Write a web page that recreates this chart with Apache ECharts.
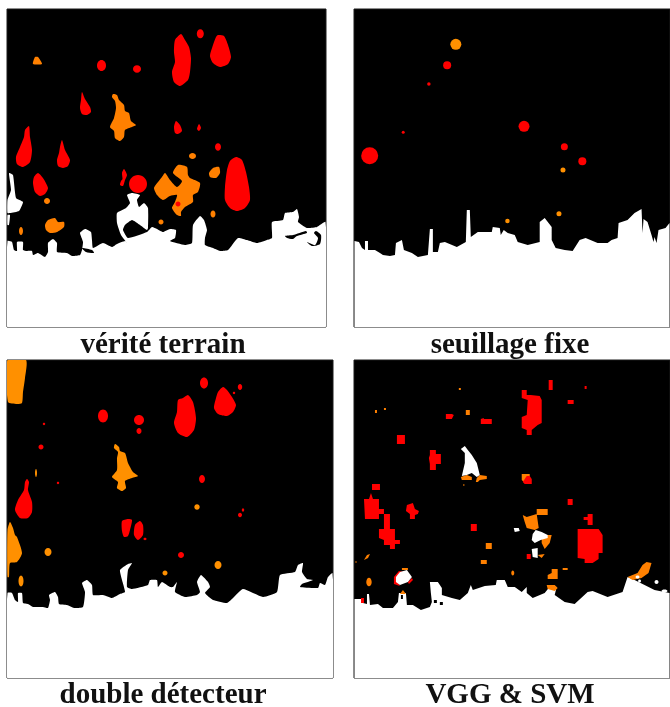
<!DOCTYPE html>
<html><head><meta charset="utf-8">
<style>html,body{margin:0;padding:0;background:#fff}#c{width:670px;height:707px}</style>
<script src="https://cdn.jsdelivr.net/npm/echarts@6/dist/echarts.min.js"></script>
</head><body><div id="c"></div>
<script>
const captions = ['vérité terrain','seuillage fixe','double détecteur','VGG & SVM'];

/* Panel 1 : vérité terrain */
const truthGround = [[[7.5,241],[12,242],[14,250],[17,251],[17,242],[23,242],[23,250],[27,251],[32,251],[33,255],[38,253],[45,257],[48,252],[48,243],[53,239],[57,243],[57,252],[67,253],[72,256],[80,255],[82,250],[83,242],[80,233],[85,229],[91,232],[92,240],[93,248],[103,243],[112,247],[117,244],[125,241],[127,243],[121,235],[117,223],[117,213],[126,208],[130,203],[127,195],[132,193],[140,195],[137,200],[139,207],[144,203],[148,208],[148,228],[147,230],[140,225],[132,220],[125,225],[123,230],[128,238],[147,232],[152,227],[157,229],[163,232],[170,229],[176,230],[175,238],[170,241],[185,245],[192,243],[193,225],[200,216],[204,220],[207,230],[205,238],[205,245],[213,248],[220,251],[228,250],[238,238],[247,240],[257,243],[267,240],[272,238],[272,222],[283,220],[285,213],[293,212],[297,209],[299,217],[298,222],[307,228],[317,227],[325.5,222],[325.5,327],[7.5,327]],
 [[9,173],[13,175],[16,198],[23,202],[19,211],[10,213],[7.5,213],[7.5,200],[11,190]],
 [[7.5,215],[10,215],[9,225],[7.5,225]]];
const truthHoles = [[[285,236],[293,235],[306,231],[307,233],[297,236],[293,239],[287,238]],[[307,242],[315,245],[318,238],[314,233],[316,231],[321,235],[320,244],[312,246]],[[82,248],[92,250],[94,253],[86,252]]];
const truthRed = [[[181,34],[185,40],[189,47],[191,58],[190,72],[188,80],[180,86],[174,82],[172,72],[175,62],[174,52],[175,40]],
 [[218,35],[224,36],[228,45],[231,57],[228,64],[220,67],[213,63],[210,56],[213,45],[216,37]],
 [[82,92],[85,99],[90,107],[91,112],[87,115],[82,114],[80,108],[81,100]],
 [[176,121],[180,125],[182,131],[178,134],[175,133],[174,127]],
 [[199,124],[201,128],[199,131],[197,129]],
 [[29,126],[30,137],[32,150],[30,162],[23,167],[17,164],[16,157],[20,147],[24,137],[25,130]],
 [[62,140],[65,150],[70,160],[68,166],[63,168],[58,166],[57,160],[59,153],[60,147]],
 [[236,157],[242,160],[246,172],[249,187],[250,200],[245,208],[237,211],[230,208],[225,200],[225,187],[227,170],[230,161]],
 [[38,173],[43,178],[48,188],[45,194],[40,196],[35,192],[33,183],[34,177]],
 [[124,169],[127,175],[125,180],[123,186],[120,185],[121,181],[122.5,179],[122,173]]];
const truthRedRound = [[200.3,33.7,3.5,4.5],[101.5,65.5,4.5,5.5],[137,69,4,3.7],[218,147,3,3.7],[138,184,9,9],[178,204,2.5,2.5]];
const truthOrange = [[[35,57],[38,57],[42,64],[33,64]],
 [[113,94],[117,95],[119,100],[124,105],[125,111],[129,113],[131,121],[136,125],[132,127],[125,130],[124,137],[120,141],[115,138],[114,131],[110,127],[114,118],[116,108],[115,101],[112,97]],
 [[213,168],[219,167],[220,173],[216,178],[210,177],[209,173]],
 [[165,173],[170,180],[177,187],[182,181],[173,173],[178,165],[187,167],[188,175],[190,178],[200,183],[198,192],[193,195],[193,202],[185,207],[181,212],[181,216],[177,215],[172,208],[175,202],[177,195],[170,196],[163,200],[157,195],[154,188],[158,182],[162,177]],
 [[45,225],[48,220],[55,218],[58,222],[64,222],[64,227],[57,232],[50,233],[46,230]]];
const truthOrangeRound = [[192.5,156,3.5,3],[47,201,3,3],[21,231,2,4],[161,222,2.5,2.5],[213,214,2.5,3.5]];

/* Panel 2 : seuillage fixe */
const fixedGround = [[[354.5,241],[359,242],[362,248],[365,250],[365,241],[368,241],[368,250],[375,250],[380,253],[383,255],[390,256],[395,255],[396,243],[400,241],[402,240],[404,250],[412,253],[418,257],[428,255],[430,229],[433,229],[433,252],[438,252],[440,243],[445,242],[457,247],[466,242],[467,210],[470,210],[471,237],[478,232],[492,232],[493,227],[500,228],[501,235],[504,230],[508,233],[515,235],[518,242],[528,245],[540,242],[540,222],[545,218],[552,227],[552,240],[556,248],[565,250],[573,251],[580,240],[586,238],[598,243],[608,243],[612,240],[618,238],[619,223],[628,220],[635,213],[642,209],[643,233],[644,219],[648,222],[652,235],[654,242],[655,237],[657,243],[659,230],[666,228],[670,223],[670,327],[354.5,327]]];
const fixedRedDots = [[447.3,65.3,8],[429,84,3.5],[403.3,132.3,3],[524.3,126.3,11],[369.7,155.7,17],[564.7,146.7,7],[582.7,161.3,8]];
const fixedOrangeDots = [[456,44.3,11],[563.3,170,5],[559.3,213.7,5],[507.7,221,4.5]];

/* Panel 3 : double détecteur */
const doubleGround = [[[7.5,593],[12,593],[15,600],[18,602],[18,593],[22,593],[23,603],[28,604],[33,607],[43,607],[48,608],[50,600],[49,595],[55,592],[58,597],[59,604],[67,605],[74,608],[83,607],[85,592],[82,583],[87,580],[92,585],[93,595],[103,595],[112,598],[120,594],[125,592],[122,580],[120,570],[128,564],[132,563],[128,570],[127,587],[132,589],[148,585],[150,580],[157,580],[158,587],[162,582],[170,587],[173,587],[177,582],[175,592],[185,597],[197,595],[200,592],[197,582],[201,575],[208,582],[210,587],[205,593],[213,600],[227,603],[233,598],[243,589],[263,597],[277,592],[280,575],[295,572],[298,565],[303,563],[302,572],[307,579],[313,580],[302,584],[300,587],[318,588],[320,583],[325,585],[328,577],[332.5,573],[332.5,678],[7.5,678]]];
const doubleRed = [[[223,387],[227,390],[232,397],[236,405],[233,412],[227,416],[218,414],[214,408],[216,398],[218,392]],
 [[188,395],[193,402],[196,418],[194,430],[187,437],[178,433],[174,423],[177,412],[178,400],[183,398]],
 [[27,479],[29,482],[28,490],[32,502],[32,512],[28,518],[20,518],[15,510],[18,500],[24,490],[25,482]],
 [[122,521],[128,519],[132,520],[130,530],[128,536],[124,537],[122,531]],
 [[135,525],[140,521],[143,525],[143,535],[138,540],[134,535]]];
const doubleRedRound = [[204,383,4,5.5],[240,387,2.2,3],[234,393,1.2,1.2],[103,416,5,6.5],[139,420,5,5],[139,431,2.5,3],[44,424,1.2,1.2],[41,447,2.5,2.5],[58,483,1.2,1.2],[202,479,3,4],[240,515,2,2.2],[243,510,1.2,1.7],[145,539,1.5,1.2],[181,555,3,3]];
const doubleOrange = [[[7.5,360],[26,360],[25,378],[23,392],[22,403],[17,404],[8,402]],
 [[115,444],[119,447],[120,451],[125,453],[128,463],[133,472],[138,476],[132,478],[125,481],[126,488],[122,491],[117,488],[118,482],[112,477],[117,470],[117,458],[118,452],[114,448]],
 [[10,522],[13,528],[15,535],[17,537],[22,553],[17,562],[10,563],[9,577],[7.5,577],[7.5,530]]];
const doubleOrangeRound = [[36,473,1,4],[197,507,2.7,2.7],[48,552,3.5,4],[21,581,2.5,5.5],[218,565,3.5,4],[165,573,2.5,2.5]];

/* Panel 4 : VGG & SVM */
const vggGround = [[[354.5,599],[361,599],[363,603],[367,604],[367,594],[369,594],[370,605],[378,604],[383,608],[393,608],[398,602],[399,593],[406,593],[407,605],[413,605],[421,610],[430,607],[432,602],[431,593],[430,582],[438,582],[442,588],[442,595],[452,598],[460,600],[468,593],[471,585],[473,590],[485,586],[496,585],[497,580],[505,580],[508,587],[515,587],[522,592],[527,587],[527,593],[533,598],[545,593],[549,588],[549,585],[557,587],[555,595],[565,602],[575,604],[588,592],[593,591],[608,597],[623,592],[628,577],[635,580],[645,585],[655,590],[670,593],[670,678],[354.5,678]]];
const vggHoles = [[[434,600],[437,600],[437,603],[434,603]],[[440,602],[443,602],[443,605],[440,605]],[[401,595],[403,595],[403,599],[401,599]]];
const vggRed = [[[522,390],[527,390],[527,395],[531,395],[540,396],[542,400],[542,423],[538,425],[532,430],[532,435],[527,435],[527,430],[522,428],[522,417],[527,415],[528,400],[522,398]],
 [[549,380],[553,380],[553,390],[549,390]],[[585,386],[587,386],[587,389],[585,389]],[[568,400],[574,400],[574,404],[568,404]],
 [[446,414],[452,414],[454,415],[452,419],[446,419]],[[481,419],[484,418],[484,419],[492,419],[492,424],[481,424]],[[397,435],[405,435],[405,444],[397,444]],
 [[430,450],[436,450],[436,454],[441,454],[441,464],[436,464],[436,470],[430,470],[430,464],[429,458],[430,455]],
 [[372,484],[380,484],[380,490],[372,490]],
 [[364,499],[369,499],[371,493],[373,499],[379,499],[379,509],[384,509],[384,514],[379,514],[379,519],[365,519]],
 [[384,514],[390,514],[390,529],[395,529],[395,540],[400,540],[400,544],[395,544],[395,549],[390,549],[390,545],[384,545],[384,540],[379,538],[379,529],[384,529]],
 [[407,505],[413,503],[415,509],[419,511],[418,514],[415,515],[415,519],[410,519],[410,514],[406,511]],
 [[471,524],[477,524],[477,531],[471,531]],[[568,499],[573,499],[573,505],[568,505]],
 [[584,517],[588,517],[588,514],[593,514],[593,525],[588,525],[588,520],[584,520]],
 [[578,529],[599,529],[603,535],[603,553],[599,553],[599,559],[593,563],[585,563],[585,559],[578,558]],
 [[527,476],[530,476],[532,479],[532,484],[525,484],[523,482]],[[527,554],[531,554],[531,559],[527,559]],
 [[394,577],[399,571],[404,572],[396,580],[400,586],[394,584]],[[408,582],[412,578],[413,580],[409,584]],[[361,598],[364,598],[364,603],[361,603]]];
const vggOrange = [[[522,474],[530,474],[530,478],[525,483],[522,480]],
 [[461,477],[467,475],[472,477],[472,480],[462,480]],[[477,478],[480,475],[487,476],[487,479],[480,480],[478,482],[476,482]],
 [[466,410],[470,410],[470,415],[466,415]],[[459,388],[461,388],[461,390],[459,390]],[[375,410],[377,410],[377,413],[375,413]],[[384,408],[386,408],[386,410],[384,410]],
 [[537,509],[548,509],[548,515],[537,515]],[[523,515],[527,517],[537,514],[539,528],[535,530],[527,528],[525,522]],
 [[542,535],[552,535],[550,543],[545,549],[542,543]],[[538,555],[545,554],[542,558]],
 [[486,543],[492,543],[492,549],[486,549]],[[481,560],[487,560],[487,564],[481,564]],[[563,568],[568,568],[568,570],[563,570]],
 [[364,560],[367,555],[370,554],[368,558]],[[548,575],[552,573],[552,569],[558,569],[558,579],[548,579]],
 [[628,577],[638,573],[643,565],[647,562],[652,563],[649,573],[642,578],[633,580]],
 [[402,568],[408,568],[408,570],[402,570]],[[400,594],[403,590],[406,594]],[[547,585],[555,585],[558,588],[555,591],[548,589]]];
const vggOrangeRound = [[513,573,1.5,2.5],[369,582,2.7,4.3],[356,562,.8,.8],[464,485,.8,.8]];
const vggWhite = [[[461,449],[465,446],[468,450],[472,455],[477,463],[480,475],[477,477],[472,473],[467,475],[462,476],[465,463],[465,453]],
 [[536,530],[542,532],[548,535],[548,538],[541,540],[535,543],[532,540],[533,534]],[[532,549],[538,548],[538,558],[533,557]],
 [[396,577],[400,572],[407,570],[412,577],[408,582],[400,585],[396,582]],[[514,528],[519,528],[520,531],[515,532]]];
const vggWhiteRound = [[657,582,2,2],[638,577,2,1.5],[640,581,1.5,1.5],[665,591,3,1.5]];

const panels = [
 {xr:[7.5,325.5],yr:[9,327],g:truthGround,h:truthHoles,r:truthRed,rr:truthRedRound,o:truthOrange,oo:truthOrangeRound,orange:'#ff8000',soft:.22,ground:.15},
 {xr:[354.5,670],yr:[9,327],g:fixedGround,rd:fixedRedDots,od:fixedOrangeDots,orange:'#ff9000',soft:0,ground:0},
 {xr:[7.5,332.5],yr:[360,678],g:doubleGround,r:doubleRed,rr:doubleRedRound,o:doubleOrange,oo:doubleOrangeRound,orange:'#ff9000',soft:.22,ground:.15},
 {xr:[354.5,670],yr:[360,678],g:vggGround,h:vggHoles,r:vggRed,o:vggOrange,oo:vggOrangeRound,w:vggWhite,ww:vggWhiteRound,orange:'#ff8000',soft:0,ground:0}
];

function polySeries(i, polys, color, smooth){
  return {type:'custom',xAxisIndex:i,yAxisIndex:i,clip:true,silent:true,animation:false,
    data:polys.map((_,k)=>[k]),encode:{},
    renderItem:(params,api)=>({type:'polygon',
      shape:{points:polys[api.value(0)].map(p=>api.coord(p)),smooth:smooth},
      style:{fill:color}})};
}
function roundSeries(i, list, color){
  return {type:'custom',xAxisIndex:i,yAxisIndex:i,clip:true,silent:true,animation:false,
    data:list,encode:{x:0,y:1},
    renderItem:(params,api)=>{
      const c=api.coord([api.value(0),api.value(1)]);
      const s=api.size([api.value(2),api.value(3)]);
      return {type:'ellipse',shape:{cx:c[0],cy:c[1],rx:s[0],ry:s[1]},style:{fill:color}};
    }};
}
function dotSeries(i, list, color){
  return {type:'scatter',xAxisIndex:i,yAxisIndex:i,silent:true,animation:false,data:list,
    symbol:'circle',symbolSize:v=>v[2],itemStyle:{color:color,opacity:1}};
}

const grid=[],xAxis=[],yAxis=[],series=[];
panels.forEach((p,i)=>{
  grid.push({left:p.xr[0]-.5,top:p.yr[0],width:p.xr[1]-p.xr[0]+1,height:p.yr[1]-p.yr[0],show:true,backgroundColor:'#000',borderColor:'#1a1a1a',borderWidth:1});
  xAxis.push({gridIndex:i,type:'value',min:p.xr[0]-.5,max:p.xr[1]+.5,show:false});
  yAxis.push({gridIndex:i,type:'value',min:p.yr[0],max:p.yr[1],inverse:true,show:false});
  series.push(polySeries(i,p.g,'#fff',p.ground));
  if(p.h) series.push(polySeries(i,p.h,'#000',p.soft));
  if(p.o) series.push(polySeries(i,p.o,p.orange,p.soft));
  if(p.oo) series.push(roundSeries(i,p.oo,p.orange));
  if(p.od) series.push(dotSeries(i,p.od,p.orange));
  if(p.r) series.push(polySeries(i,p.r,'#ff0000',p.soft));
  if(p.rr) series.push(roundSeries(i,p.rr,'#ff0000'));
  if(p.rd) series.push(dotSeries(i,p.rd,'#ff0000'));
  if(p.w) series.push(polySeries(i,p.w,'#fff',0));
  if(p.ww) series.push(roundSeries(i,p.ww,'#fff'));
});
const capCenters=[163,510,163,510], capTops=[331,331,681,681];
const title=captions.map((t,i)=>({text:t,left:capCenters[i],top:capTops[i],padding:0,textAlign:'center',
  textStyle:{fontFamily:'Liberation Serif',fontWeight:'bold',fontSize:29,color:'#111'}}));

echarts.init(document.getElementById('c'),null,{renderer:'canvas'}).setOption({
  backgroundColor:'#fff',animation:false,title,grid,xAxis,yAxis,series,tooltip:{show:false}
});
</script></body></html>
